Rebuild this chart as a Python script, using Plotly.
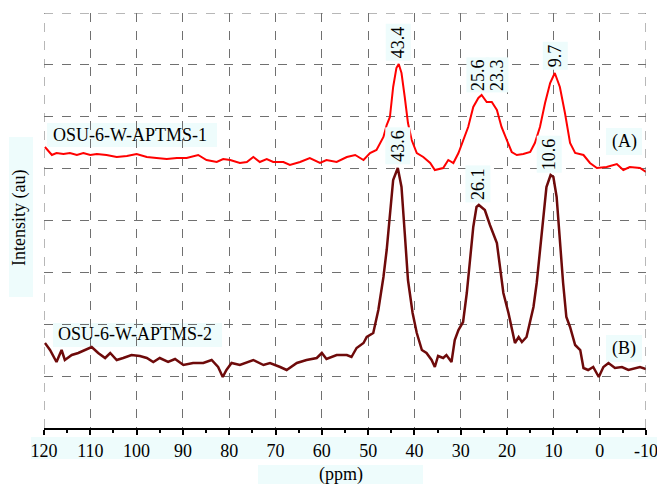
import plotly.graph_objects as go

# ---- data (ppm, intensity in arbitrary units) ----
ppm_a = [119.8, 118.3, 117.3, 115.8, 114.4, 112.9, 111.5, 110.0, 108.6, 106.5, 104.3, 102.1, 100.0,
         97.8, 95.7, 93.5, 91.3, 89.2, 86.7, 84.9, 82.7, 81.3, 79.8, 77.7, 76.2, 74.8, 73.4, 71.9,
         70.5, 68.3, 66.9, 64.7, 62.6, 60.4, 59.0, 56.8, 54.6, 52.8, 51.0, 49.6, 48.2, 46.7, 46.0,
         45.3, 44.6, 43.9, 43.4, 42.8, 42.1, 41.4, 40.6, 39.5, 38.1, 36.6, 35.6, 33.8, 32.7, 31.6,
         30.5, 29.5, 28.4, 27.3, 26.2, 25.5, 24.4, 23.3, 22.2, 21.2, 20.1, 19.0, 17.9, 16.5, 15.0,
         14.0, 12.9, 11.8, 10.7, 9.7, 8.6, 7.5, 6.4, 5.3, 3.5, 2.1, 0.6, -1.5, -3.7, -5.1, -6.5,
         -8.7, -10.0]
int_a = [281, 273, 275, 274, 275, 273, 275, 273, 274, 273, 271, 272, 274,
         271, 270, 269, 270, 270, 273, 268, 266, 269, 268, 265, 266, 271, 266, 269,
         266, 266, 263, 266, 270, 265, 268, 266, 271, 273, 268, 275, 278, 291, 303,
         311, 341, 360, 364, 355, 331, 305, 288, 275, 271, 265, 258, 260, 268, 265,
         275, 288, 301, 321, 330, 333, 326, 326, 318, 301, 288, 276, 273, 274, 276,
         285, 301, 325, 345, 355, 341, 315, 285, 275, 273, 265, 260, 261, 264, 258, 261,
         260, 256]

ppm_b = [119.8, 118.7, 117.3, 116.2, 115.5, 114.0, 112.6, 111.1, 109.7, 108.3, 106.8, 105.7, 104.3,
         102.9, 101.1, 99.3, 97.8, 96.4, 95.0, 93.2, 91.7, 89.9, 87.8, 85.6, 83.8, 82.4, 81.4,
         80.6, 79.5, 77.7, 74.8, 72.6, 71.2, 69.0, 67.6, 65.4, 63.3, 61.1, 60.0, 59.0, 56.8, 54.6,
         53.6, 52.5, 51.0, 50.3, 48.9, 47.8, 46.7, 46.0, 45.3, 44.6, 43.6, 42.8, 42.1, 41.4, 40.4,
         39.5, 38.4, 37.4, 36.3, 35.6, 34.9, 33.8, 33.1, 32.0, 31.3, 30.5, 29.5, 28.7, 28.0, 27.3,
         26.6, 26.1, 24.8, 23.7, 22.2, 21.5, 20.8, 19.7, 19.0, 18.3, 17.5, 16.8, 15.8, 15.0, 14.3,
         13.6, 12.9, 12.2, 11.5, 10.6, 10.0, 9.3, 8.6, 7.9, 7.2, 6.4, 5.3, 4.2, 3.5, 2.5, 1.4, 0.6,
         0.2, -0.8, -1.9, -3.3, -4.8, -6.2, -7.7, -8.7, -10.0]
int_b = [85, 78, 66, 78, 68, 73, 75, 78, 81, 75, 70, 75, 68,
         70, 73, 72, 70, 66, 70, 66, 69, 63, 65, 65, 68, 61, 51,
         58, 65, 63, 68, 63, 65, 61, 58, 65, 68, 70, 75, 69, 73, 73,
         71, 80, 85, 91, 95, 118, 151, 178, 211, 248, 260, 241, 195, 148, 115,
         95, 78, 75, 68, 61, 72, 70, 73, 66, 88, 98, 106, 135, 168, 201,
         221, 223, 218, 203, 185, 158, 135, 115, 98, 85, 91, 86, 91, 108, 121,
         145, 175, 211, 241, 253, 251, 231, 185, 145, 111, 101, 83, 78, 60, 58, 61, 55,
         51, 61, 65, 60, 61, 58, 60, 61, 59]

peak_a_ppm = [43.5, 9.7]
peak_a_val = [364, 355]
peak_a_txt = ["43.4", "9.7"]
shoulder_ppm = [26.3, 22.2]
shoulder_txt = ["25.6", "23.3"]
shoulder_val = 335
peak_b_ppm = [43.6, 26.3, 10.9]
peak_b_val = [263, 225, 255]
peak_b_txt = ["43.6", "26.1", "10.6"]

x_ticks = [120, 110, 100, 90, 80, 70, 60, 50, 40, 30, 20, 10, 0, -10]
x_tick_text = ["120", "110", "100", "90", "80", "70", "60", "50", "40", "30", "20", "10", "0", "-10"]

FONT = "Liberation Serif"
BOX = "#eefcfc"
W, H = 657, 484
L, R, T, B = 44, 11, 13, 56
PW, PH = W - L - R, H - T - B


def px(xp):
    return (xp - L) / PW


def py(yp):
    return (H - B - yp) / PH


fig = go.Figure()
fig.add_trace(go.Scatter(x=ppm_a, y=int_a, mode="lines",
                         line=dict(color="#ff0000", width=2), showlegend=False))
fig.add_trace(go.Scatter(x=ppm_b, y=int_b, mode="lines",
                         line=dict(color="#6e0a0a", width=2.5), showlegend=False))

shapes = []
# background boxes (paper coordinates)
for (x0, y0, x1, y1) in [(9, 137, 33, 297), (31, 437, 657, 459), (258, 465, 423, 484),
                         (47, 123, 217, 147), (53, 323, 222, 347),
                         (606, 128, 642, 155), (606, 335, 642, 362)]:
    shapes.append(dict(type="rect", xref="paper", yref="paper", x0=px(x0), x1=px(x1),
                       y0=py(y1), y1=py(y0), fillcolor=BOX, line=dict(width=0), layer="below"))

ann = []
for xv, yv, t in zip(peak_a_ppm, peak_a_val, peak_a_txt):
    ann.append(dict(x=xv, y=yv + 3, text=t, textangle=-90, showarrow=False, yanchor="bottom",
                    xanchor="center", bgcolor=BOX, borderpad=2, font=dict(size=18, family=FONT, color="black")))
for xv, t in zip(shoulder_ppm, shoulder_txt):
    ann.append(dict(x=xv, y=shoulder_val, text=t, textangle=-90, showarrow=False, yanchor="bottom",
                    xanchor="center", bgcolor=BOX, borderpad=1, font=dict(size=18, family=FONT, color="black")))
for xv, yv, t in zip(peak_b_ppm, peak_b_val, peak_b_txt):
    ann.append(dict(x=xv, y=yv, text=t, textangle=-90, showarrow=False, yanchor="bottom",
                    xanchor="center", bgcolor=BOX, borderpad=2, font=dict(size=18, family=FONT, color="black")))

for txt, xc, yc in [("OSU-6-W-APTMS-1", 130, 135), ("OSU-6-W-APTMS-2", 135, 334),
                    ("(A)", 624, 141), ("(B)", 624, 348), ("(ppm)", 341, 474)]:
    ann.append(dict(xref="paper", yref="paper", x=px(xc), y=py(yc), text=txt, showarrow=False,
                    xanchor="center", yanchor="middle", font=dict(size=18, family=FONT, color="black")))
ann.append(dict(xref="paper", yref="paper", x=px(19), y=py(218), text="Intensity (au)", textangle=-90,
                showarrow=False, xanchor="center", yanchor="middle",
                font=dict(size=18, family=FONT, color="black")))

fig.update_layout(
    width=W, height=H,
    margin=dict(l=L, r=R, t=T, b=B, pad=0, autoexpand=False),
    paper_bgcolor="white", plot_bgcolor="white",
    shapes=shapes, annotations=ann,
    xaxis=dict(range=[120, -10], tickvals=x_ticks, ticktext=x_tick_text, automargin=False,
               ticklabeloverflow="allow",
               showgrid=True, gridcolor="#707070", griddash="dash", gridwidth=1,
               showline=True, linecolor="black", linewidth=2, ticks="outside", ticklen=5,
               tickwidth=2, tickcolor="black", zeroline=False,
               minor=dict(dtick=5, tick0=0, ticks="outside", ticklen=3, tickwidth=2,
                          tickcolor="black", showgrid=False),
               tickfont=dict(size=18, family=FONT, color="black")),
    yaxis=dict(range=[0, 415], tick0=0, dtick=415 / 8, showticklabels=False, automargin=False,
               showgrid=True, gridcolor="#707070", griddash="dash", gridwidth=1,
               showline=False, zeroline=False, ticks=""),
)

# right, top and left dashed frame lines
fig.add_shape(type="line", xref="x", yref="paper", x0=-10, x1=-10, y0=0, y1=1,
              line=dict(color="#707070", width=1, dash="dash"))
fig.add_shape(type="line", xref="paper", yref="y", x0=0, x1=1, y0=415, y1=415,
              line=dict(color="#707070", width=1, dash="dash"))
fig.add_shape(type="line", xref="x", yref="paper", x0=120, x1=120, y0=0, y1=1,
              line=dict(color="#707070", width=1, dash="dash"))

fig.write_html("out.html", config={"displayModeBar": False},
               post_script="document.body.style.margin='0';document.body.style.overflow='hidden';")
